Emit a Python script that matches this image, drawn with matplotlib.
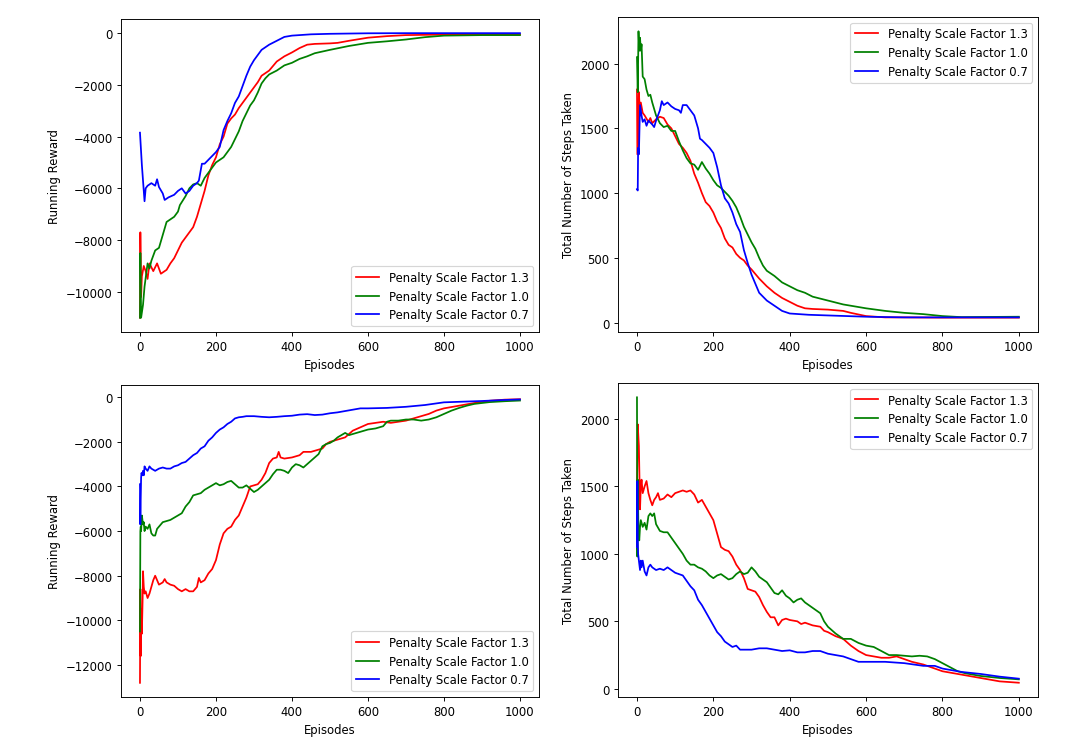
import matplotlib
matplotlib.use("Agg")
import matplotlib.pyplot as plt

labels = ["Penalty Scale Factor 1.3", "Penalty Scale Factor 1.0", "Penalty Scale Factor 0.7"]
colors = ["red", "green", "blue"]

# ---- top left: running reward, run 1 ----
tl_red_x = [0, 1, 3, 5, 10, 15, 20, 25, 35, 45, 55, 70, 80, 90, 100, 110, 120, 130, 140, 150,
            160, 170, 180, 190, 200, 210, 220, 230, 240, 250, 260, 270, 280, 290, 300, 310,
            320, 340, 360, 380, 400, 420, 440, 460, 500, 520, 550, 600, 650, 700, 800, 1000]
tl_red_y = [-11000, -7700, -10200, -9400, -9000, -9200, -9500, -8900, -9200, -8900, -9300,
            -9150, -8900, -8700, -8400, -8100, -7900, -7700, -7500, -7100, -6600, -6100,
            -5500, -5100, -4800, -4300, -4000, -3500, -3300, -3150, -2900, -2700, -2500,
            -2300, -2100, -1900, -1650, -1450, -1100, -900, -750, -580, -450, -420, -400,
            -380, -300, -180, -120, -80, -60, -50]
tl_green_x = [0, 1, 3, 8, 12, 20, 25, 30, 40, 50, 60, 70, 80, 90, 100, 105, 120, 130, 140,
              150, 160, 170, 180, 190, 200, 210, 220, 230, 240, 250, 260, 270, 280, 290, 300,
              310, 320, 330, 340, 360, 380, 400, 420, 440, 460, 500, 550, 600, 650, 700, 750,
              800, 900, 1000]
tl_green_y = [-11000, -8500, -11000, -10500, -9800, -8900, -9100, -8800, -8400, -8300, -7800,
              -7300, -7200, -7100, -6900, -6650, -6300, -6000, -5850, -5800, -5900, -5600,
              -5400, -5200, -5000, -4900, -4800, -4600, -4400, -4100, -3800, -3400, -3100,
              -2800, -2600, -2300, -1950, -1750, -1600, -1450, -1250, -1150, -1000, -900,
              -780, -650, -500, -380, -320, -250, -160, -100, -80, -80]
tl_blue_x = [0, 5, 12, 15, 20, 30, 40, 45, 50, 60, 65, 75, 90, 100, 110, 120, 130, 140, 150,
             155, 163, 170, 180, 190, 200, 210, 220, 230, 240, 250, 260, 270, 280, 290, 300,
             320, 340, 360, 380, 400, 450, 500, 600, 700, 1000]
tl_blue_y = [-3850, -5100, -6500, -6000, -5900, -5800, -5900, -5650, -5950, -6200, -6450,
             -6350, -6250, -6100, -6000, -6200, -6100, -5900, -5800, -5700, -5050, -5050,
             -4900, -4750, -4600, -4400, -3750, -3400, -3100, -2700, -2450, -2050, -1650,
             -1300, -1050, -650, -450, -300, -150, -100, -50, -30, -10, -5, -5]

# ---- top right: steps taken, run 1 ----
tr_red_x = [0, 1, 3, 5, 8, 10, 15, 20, 30, 35, 40, 50, 60, 70, 80, 90, 100, 110, 120, 130,
            140, 150, 160, 170, 180, 190, 200, 210, 220, 230, 240, 250, 260, 270, 280, 290,
            300, 320, 340, 360, 380, 400, 420, 440, 460, 500, 540, 560, 600, 650, 700, 800, 1000]
tr_red_y = [1800, 1300, 1300, 1780, 1600, 1700, 1620, 1600, 1550, 1580, 1540, 1570, 1590,
            1580, 1530, 1500, 1440, 1380, 1350, 1310, 1250, 1150, 1080, 1000, 930, 900, 850,
            780, 730, 650, 600, 580, 530, 500, 480, 440, 410, 340, 280, 230, 190, 160, 130,
            110, 105, 100, 90, 75, 50, 40, 40, 38, 38]
tr_green_x = [0, 2, 4, 6, 8, 10, 12, 15, 20, 25, 30, 35, 40, 50, 60, 70, 80, 90, 100, 110,
              120, 130, 140, 150, 160, 170, 180, 190, 200, 210, 220, 230, 240, 250, 260, 270,
              280, 290, 300, 310, 320, 330, 340, 360, 380, 400, 420, 440, 460, 500, 540, 600,
              650, 700, 750, 800, 850, 1000]
tr_green_y = [2050, 1780, 2250, 2100, 2200, 2100, 2150, 1900, 1880, 1800, 1750, 1760, 1700,
              1600, 1540, 1510, 1520, 1480, 1480, 1400, 1330, 1270, 1230, 1220, 1180, 1240,
              1190, 1150, 1100, 1060, 1040, 1010, 980, 940, 890, 820, 740, 680, 620, 570, 500,
              440, 400, 360, 310, 280, 250, 230, 200, 170, 140, 110, 90, 75, 65, 50, 42, 45]
tr_blue_x = [0, 2, 3, 5, 8, 12, 15, 20, 25, 30, 40, 45, 50, 55, 60, 65, 70, 80, 90, 100, 110,
             115, 120, 130, 140, 150, 160, 165, 170, 180, 190, 200, 210, 220, 230, 240, 250,
             260, 270, 280, 290, 300, 310, 320, 340, 360, 380, 400, 450, 500, 600, 700, 1000]
tr_blue_y = [1030, 1020, 1350, 1300, 1680, 1600, 1550, 1570, 1520, 1560, 1530, 1510, 1560,
             1600, 1640, 1710, 1680, 1700, 1670, 1650, 1640, 1620, 1680, 1680, 1640, 1600,
             1500, 1420, 1410, 1380, 1350, 1310, 1200, 1060, 960, 920, 850, 760, 700, 560,
             460, 370, 300, 230, 170, 130, 90, 70, 60, 55, 45, 40, 40]

# ---- bottom left: running reward, run 2 ----
bl_red_x = [0, 1, 2, 3, 5, 7, 8, 10, 12, 15, 20, 25, 30, 35, 40, 45, 50, 60, 65, 70, 80, 90,
            100, 110, 120, 130, 140, 150, 155, 160, 170, 180, 190, 200, 210, 220, 230, 240,
            250, 260, 270, 280, 290, 300, 310, 320, 330, 340, 350, 360, 365, 370, 380, 400,
            420, 430, 450, 470, 480, 490, 500, 520, 540, 560, 580, 600, 620, 640, 660, 680,
            700, 720, 740, 760, 780, 800, 840, 880, 920, 960, 1000]
bl_red_y = [-12800, -8600, -11600, -9500, -10600, -9000, -7800, -8500, -8800, -8700, -9000,
            -8800, -8500, -8200, -8000, -8200, -8400, -8300, -8150, -8300, -8400, -8450,
            -8600, -8700, -8600, -8700, -8700, -8500, -8100, -8300, -8200, -7900, -7700,
            -7300, -6600, -6100, -5900, -5800, -5500, -5300, -4900, -4500, -4000, -3950,
            -3900, -3700, -3400, -2950, -2750, -2700, -2450, -2700, -2750, -2700, -2600,
            -2450, -2450, -2350, -2300, -2100, -2000, -1900, -1800, -1500, -1350, -1200,
            -1150, -1100, -1150, -1100, -1050, -950, -850, -750, -600, -500, -380, -260,
            -160, -110, -90]
bl_green_x = [0, 1, 2, 3, 5, 8, 10, 12, 15, 20, 25, 30, 35, 40, 45, 50, 60, 70, 80, 90, 100,
              110, 120, 130, 140, 150, 160, 170, 180, 190, 200, 210, 220, 230, 240, 250, 260,
              270, 280, 290, 300, 310, 320, 330, 340, 350, 360, 370, 380, 390, 400, 410, 420,
              430, 440, 450, 460, 470, 480, 490, 500, 510, 520, 530, 540, 550, 560, 580, 600,
              620, 640, 650, 660, 680, 700, 720, 740, 760, 780, 800, 820, 840, 860, 880, 920,
              960, 1000]
bl_green_y = [-10500, -6000, -5800, -6000, -5300, -5700, -5600, -6000, -5800, -5900, -5700,
              -6100, -6200, -6200, -5900, -5800, -5600, -5550, -5500, -5400, -5300, -5200,
              -4900, -4700, -4400, -4350, -4300, -4150, -4050, -3950, -3850, -3950, -3900,
              -3800, -3750, -3900, -4050, -4050, -3950, -4100, -4250, -4150, -4000, -3850,
              -3700, -3450, -3250, -3250, -3300, -3400, -3150, -3000, -3050, -3150, -3000,
              -2850, -2700, -2550, -2200, -2100, -2050, -1950, -1800, -1700, -1600, -1700,
              -1650, -1550, -1450, -1400, -1300, -1100, -1050, -1050, -1000, -1000, -1050,
              -1000, -900, -750, -600, -480, -380, -300, -220, -180, -150]
bl_blue_x = [0, 1, 2, 3, 4, 6, 8, 10, 12, 15, 20, 25, 30, 35, 40, 50, 60, 70, 80, 90, 100,
             110, 120, 130, 140, 150, 160, 170, 180, 190, 200, 210, 220, 230, 240, 250, 260,
             270, 280, 300, 320, 340, 360, 380, 400, 420, 440, 460, 480, 500, 520, 540, 560,
             580, 600, 650, 700, 750, 800, 850, 900, 950, 1000]
bl_blue_y = [-3900, -5700, -4500, -3600, -3400, -3500, -3300, -3500, -3100, -3200, -3300,
             -3100, -3200, -3250, -3300, -3200, -3150, -3200, -3200, -3100, -3050, -2950,
             -2900, -2750, -2600, -2500, -2300, -2200, -1950, -1800, -1600, -1450, -1350,
             -1200, -1100, -950, -900, -880, -850, -850, -880, -900, -880, -850, -830, -780,
             -760, -800, -780, -720, -680, -620, -560, -500, -500, -480, -430, -350, -230,
             -200, -170, -130, -100]

# ---- bottom right: steps taken, run 2 ----
br_red_x = [0, 2, 5, 8, 10, 12, 15, 20, 25, 30, 35, 40, 45, 50, 55, 60, 70, 80, 90, 100, 110,
            120, 130, 140, 150, 160, 170, 180, 190, 200, 210, 220, 230, 240, 250, 260, 270,
            280, 290, 300, 310, 320, 330, 340, 350, 360, 370, 380, 390, 400, 420, 430, 440,
            460, 480, 490, 500, 520, 540, 560, 580, 600, 620, 640, 660, 680, 700, 720, 750,
            780, 800, 850, 900, 950, 1000]
br_red_y = [1500, 1960, 1800, 1330, 1500, 1550, 1450, 1500, 1540, 1450, 1400, 1360, 1400,
            1420, 1450, 1400, 1410, 1440, 1420, 1450, 1460, 1470, 1460, 1470, 1440, 1380,
            1400, 1350, 1300, 1250, 1150, 1050, 1030, 1020, 980, 920, 880, 820, 740, 730,
            720, 680, 620, 570, 530, 530, 470, 510, 520, 510, 500, 480, 490, 470, 460, 430,
            420, 390, 370, 320, 280, 250, 240, 230, 230, 240, 220, 200, 180, 150, 130, 105,
            80, 55, 45]
br_green_x = [0, 1, 2, 4, 6, 8, 10, 15, 20, 25, 30, 35, 40, 45, 50, 60, 70, 80, 90, 100, 110,
              120, 130, 140, 150, 160, 170, 180, 190, 200, 210, 220, 230, 240, 250, 260, 270,
              280, 290, 300, 310, 320, 330, 340, 350, 360, 370, 380, 390, 400, 410, 420, 430,
              440, 460, 480, 490, 500, 520, 540, 560, 580, 600, 620, 640, 660, 680, 700, 720,
              740, 760, 780, 800, 820, 840, 860, 900, 950, 1000]
br_green_y = [2160, 980, 1550, 1150, 1100, 1200, 1250, 1200, 1230, 1180, 1280, 1300, 1280,
              1300, 1220, 1170, 1160, 1160, 1120, 1080, 1040, 1000, 950, 920, 920, 900, 890,
              870, 840, 820, 840, 850, 830, 810, 820, 850, 870, 850, 860, 900, 870, 830, 810,
              790, 750, 710, 700, 730, 690, 670, 640, 660, 670, 640, 600, 560, 500, 460, 410,
              370, 370, 340, 320, 310, 280, 250, 250, 245, 240, 245, 240, 220, 190, 160, 130,
              115, 95, 80, 70]
br_blue_x = [0, 1, 2, 3, 5, 8, 10, 12, 15, 20, 25, 30, 35, 40, 50, 60, 70, 80, 90, 100, 110,
             120, 130, 140, 150, 160, 170, 180, 190, 200, 210, 220, 230, 240, 250, 260, 270,
             280, 300, 320, 340, 360, 380, 400, 420, 440, 460, 480, 500, 520, 540, 560, 580,
             600, 650, 700, 750, 780, 800, 850, 900, 950, 1000]
br_blue_y = [1050, 1540, 1100, 1000, 950, 880, 950, 900, 950, 870, 840, 900, 920, 900, 880,
             890, 880, 900, 880, 860, 850, 840, 800, 760, 730, 660, 620, 570, 520, 470, 420,
             390, 350, 330, 310, 320, 290, 290, 290, 300, 300, 290, 280, 285, 270, 270, 280,
             280, 260, 250, 240, 220, 200, 200, 200, 190, 170, 170, 150, 125, 110, 90, 75]

panels = [
    ([(tl_red_x, tl_red_y), (tl_green_x, tl_green_y), (tl_blue_x, tl_blue_y)],
     "Running Reward", "lower right", [0.1116, 0.559, 0.3856, 0.4146]),
    ([(tr_red_x, tr_red_y), (tr_green_x, tr_green_y), (tr_blue_x, tr_blue_y)],
     "Total Number of Steps Taken", "upper right", [0.570, 0.559, 0.3875, 0.4172]),
    ([(bl_red_x, bl_red_y), (bl_green_x, bl_green_y), (bl_blue_x, bl_blue_y)],
     "Running Reward", "lower right", [0.1116, 0.0755, 0.3856, 0.4132]),
    ([(br_red_x, br_red_y), (br_green_x, br_green_y), (br_blue_x, br_blue_y)],
     "Total Number of Steps Taken", "upper right", [0.570, 0.0755, 0.3875, 0.4158]),
]

# the source image looks like a larger figure shrunk down, so draw at a lower dpi
fig = plt.figure(figsize=(1084 / 84, 755 / 84), dpi=84)
for series, ylabel, loc, rect in panels:
    ax = fig.add_axes(rect)
    for (xs, ys), lab, col in zip(series, labels, colors):
        ax.plot(xs, ys, color=col, label=lab, linewidth=1.5)
    ax.set_xlabel("Episodes")
    ax.set_ylabel(ylabel)
    ax.legend(loc=loc)

fig.savefig("out.png", dpi=84)
